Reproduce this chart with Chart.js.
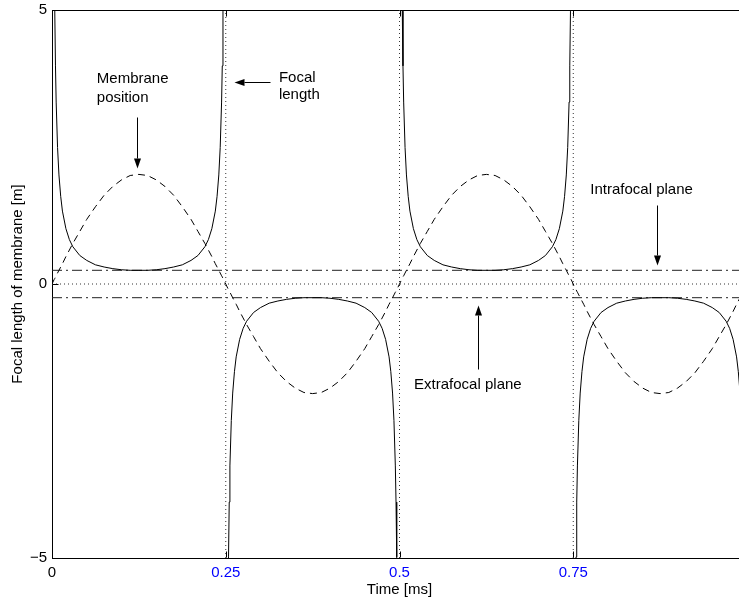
<!DOCTYPE html>
<html>
<head>
<meta charset="utf-8">
<script src="https://cdn.jsdelivr.net/npm/chart.js@4.4.1/dist/chart.umd.min.js"></script>
<style>
  html, body { margin: 0; padding: 0; background: #fff; overflow: hidden; }
  #wrap { width: 739px; height: 600px; overflow: hidden; }
</style>
</head>
<body>
<div id="wrap"><canvas id="lensChart" width="760" height="600"></canvas></div>
<script>
// time axis [ms], denser near the asymptotes of the focal length curve
const timeMs = [
  0, 0.003, 0.004, 0.005, 0.006, 0.008, 0.01, 0.0125, 0.015, 0.02, 0.025, 0.03, 0.04, 0.05, 0.0625, 0.075, 0.0875, 0.1, 0.1125,
  0.125, 0.1375, 0.15, 0.1625, 0.175, 0.1875, 0.2, 0.21, 0.22, 0.225, 0.23, 0.235, 0.2375, 0.24, 0.242, 0.244, 0.245, 0.246, 0.247,
  0.25, 0.253, 0.254, 0.255, 0.256, 0.258, 0.26, 0.2625, 0.265, 0.27, 0.275, 0.28, 0.29, 0.3, 0.3125, 0.325, 0.3375, 0.35, 0.3625,
  0.375, 0.3875, 0.4, 0.4125, 0.425, 0.4375, 0.45, 0.46, 0.47, 0.475, 0.48, 0.485, 0.4875, 0.49, 0.492, 0.494, 0.495, 0.496, 0.497,
  0.5, 0.503, 0.504, 0.505, 0.506, 0.508, 0.51, 0.5125, 0.515, 0.52, 0.525, 0.53, 0.54, 0.55, 0.5625, 0.575, 0.5875, 0.6, 0.6125,
  0.625, 0.6375, 0.65, 0.6625, 0.675, 0.6875, 0.7, 0.71, 0.72, 0.725, 0.73, 0.735, 0.7375, 0.74, 0.742, 0.744, 0.745, 0.746, 0.747,
  0.75, 0.753, 0.754, 0.755, 0.756, 0.758, 0.76, 0.7625, 0.765, 0.77, 0.775, 0.78, 0.79, 0.8, 0.8125, 0.825, 0.8375, 0.85, 0.8625,
  0.875, 0.8875, 0.9, 0.9125, 0.925, 0.9375, 0.95, 0.96, 0.97, 0.975, 0.98, 0.985, 0.9875, 0.99, 0.992, 0.994, 0.995, 0.996, 0.997,
  1.0
];

// focal length of membrane [m] (solid)
const focalLength = [
  null, 6.63, 4.98, 3.98, 3.32, 2.49, 1.99, 1.60, 1.33, 1.01, 0.81, 0.68, 0.52, 0.43, 0.35, 0.31, 0.28, 0.26, 0.25,
  0.25, 0.25, 0.26, 0.28, 0.31, 0.35, 0.43, 0.52, 0.68, 0.81, 1.01, 1.33, 1.60, 1.99, 2.49, 3.32, 3.98, 4.98, 6.63,
  null, -6.63, -4.98, -3.98, -3.32, -2.49, -1.99, -1.60, -1.33, -1.01, -0.81, -0.68, -0.52, -0.43, -0.35, -0.31, -0.28, -0.26, -0.25,
  -0.25, -0.25, -0.26, -0.28, -0.31, -0.35, -0.43, -0.52, -0.68, -0.81, -1.01, -1.33, -1.60, -1.99, -2.49, -3.32, -3.98, -4.98, -6.63,
  null, 6.63, 4.98, 3.98, 3.32, 2.49, 1.99, 1.60, 1.33, 1.01, 0.81, 0.68, 0.52, 0.43, 0.35, 0.31, 0.28, 0.26, 0.25,
  0.25, 0.25, 0.26, 0.28, 0.31, 0.35, 0.43, 0.52, 0.68, 0.81, 1.01, 1.33, 1.60, 1.99, 2.49, 3.32, 3.98, 4.98, 6.63,
  null, -6.63, -4.98, -3.98, -3.32, -2.49, -1.99, -1.60, -1.33, -1.01, -0.81, -0.68, -0.52, -0.43, -0.35, -0.31, -0.28, -0.26, -0.25,
  -0.25, -0.25, -0.26, -0.28, -0.31, -0.35, -0.43, -0.52, -0.68, -0.81, -1.01, -1.33, -1.60, -1.99, -2.49, -3.32, -3.98, -4.98, -6.63,
  null
];

// membrane position (dashed)
const membranePos = [
  0, 0.08, 0.10, 0.13, 0.15, 0.20, 0.25, 0.31, 0.37, 0.50, 0.62, 0.74, 0.96, 1.18, 1.41, 1.62, 1.78, 1.90, 1.98,
  2.00, 1.98, 1.90, 1.78, 1.62, 1.41, 1.18, 0.96, 0.74, 0.62, 0.50, 0.37, 0.31, 0.25, 0.20, 0.15, 0.13, 0.10, 0.08,
  0, -0.08, -0.10, -0.13, -0.15, -0.20, -0.25, -0.31, -0.37, -0.50, -0.62, -0.74, -0.96, -1.18, -1.41, -1.62, -1.78, -1.90, -1.98,
  -2.00, -1.98, -1.90, -1.78, -1.62, -1.41, -1.18, -0.96, -0.74, -0.62, -0.50, -0.37, -0.31, -0.25, -0.20, -0.15, -0.13, -0.10, -0.08,
  0, 0.08, 0.10, 0.13, 0.15, 0.20, 0.25, 0.31, 0.37, 0.50, 0.62, 0.74, 0.96, 1.18, 1.41, 1.62, 1.78, 1.90, 1.98,
  2.00, 1.98, 1.90, 1.78, 1.62, 1.41, 1.18, 0.96, 0.74, 0.62, 0.50, 0.37, 0.31, 0.25, 0.20, 0.15, 0.13, 0.10, 0.08,
  0, -0.08, -0.10, -0.13, -0.15, -0.20, -0.25, -0.31, -0.37, -0.50, -0.62, -0.74, -0.96, -1.18, -1.41, -1.62, -1.78, -1.90, -1.98,
  -2.00, -1.98, -1.90, -1.78, -1.62, -1.41, -1.18, -0.96, -0.74, -0.62, -0.50, -0.37, -0.31, -0.25, -0.20, -0.15, -0.13, -0.10, -0.08,
  0
];

const focalMarks = [0.25, 0.5, 0.75];   // dotted vertical lines
const planeLevels = [0.25, -0.25];      // intra/extrafocal planes
const xTicks = [0, 0.25, 0.5, 0.75];
const yTicks = [-5, 0, 5];

// annotation text (left x, baseline y in data units) and arrows (tail -> tip)
const notes = [
  { lines: ["Membrane", "position"], x: 0.0645, y: [3.676, 3.329] },
  { lines: ["Focal", "length"], x: 0.3265, y: [3.694, 3.384] },
  { lines: ["Intrafocal plane"], x: 0.7745, y: [1.634] },
  { lines: ["Extrafocal plane"], x: 0.521, y: [-1.913] }
];
const arrows = [
  { x1: 0.1224, y1: 3.055, x2: 0.1224, y2: 2.123 },
  { x1: 0.3138, y1: 3.694, x2: 0.262, y2: 3.694 },
  { x1: 0.8709, y1: 1.447, x2: 0.8709, y2: 0.351 },
  { x1: 0.6133, y1: -1.548, x2: 0.6133, y2: -0.379 }
];

const FONT = '"Liberation Sans", Arial, Helvetica, sans-serif';

const lineSet = (data, dash, color) => ({
  data,
  borderColor: color || "#000",
  borderWidth: 1,
  borderDash: dash,
  pointRadius: 0,
  tension: 0,
  spanGaps: false,
  fill: false
});

const datasets = [
  lineSet(timeMs.map((t, i) => ({ x: t, y: focalLength[i] })), []),
  lineSet(timeMs.map((t, i) => ({ x: t, y: membranePos[i] })), [7, 5]),
  lineSet([{ x: 0, y: 0 }, { x: 1, y: 0 }], [1, 3], "#333")
];
planeLevels.forEach((v) => {
  datasets.push(lineSet([{ x: 0, y: v }, { x: 1, y: v }], [10, 4, 2, 4], "#222"));
});
focalMarks.forEach((v) => {
  datasets.push(lineSet([{ x: v, y: -5 }, { x: v, y: 5 }], [1, 3], "#333"));
});

// frame top, inside tick marks, arrows and labels
const overlay = {
  id: "overlay",
  afterDatasetsDraw(chart) {
    const { ctx, chartArea: a, scales: { x, y } } = chart;
    ctx.save();
    ctx.strokeStyle = "#000";
    ctx.fillStyle = "#000";
    ctx.lineWidth = 1;
    ctx.setLineDash([]);

    const top = Math.round(a.top) + 0.5;
    const bot = Math.round(a.bottom) - 0.5;
    const left = Math.round(a.left) + 0.5;
    ctx.beginPath();
    ctx.moveTo(a.left, top);
    ctx.lineTo(a.right, top);
    xTicks.forEach((v) => {
      if (v === 0) return;
      const px = Math.round(x.getPixelForValue(v)) + 0.5;
      ctx.moveTo(px, bot);
      ctx.lineTo(px, bot - 6);
      ctx.moveTo(px, top);
      ctx.lineTo(px, top + 6);
    });
    yTicks.forEach((v) => {
      const py = Math.round(y.getPixelForValue(v)) + 0.5;
      ctx.moveTo(left, py);
      ctx.lineTo(left + 6, py);
    });
    ctx.stroke();

    arrows.forEach((ar) => {
      const x1 = Math.round(x.getPixelForValue(ar.x1)) + 0.5;
      const y1 = Math.round(y.getPixelForValue(ar.y1)) + 0.5;
      const x2 = Math.round(x.getPixelForValue(ar.x2)) + 0.5;
      const y2 = Math.round(y.getPixelForValue(ar.y2)) + 0.5;
      const ang = Math.atan2(y2 - y1, x2 - x1);
      const len = 10, half = 3.5;
      const bx = x2 - len * Math.cos(ang), by = y2 - len * Math.sin(ang);
      ctx.beginPath();
      ctx.moveTo(x1, y1);
      ctx.lineTo(bx, by);
      ctx.stroke();
      ctx.beginPath();
      ctx.moveTo(x2, y2);
      ctx.lineTo(bx + half * Math.sin(ang), by - half * Math.cos(ang));
      ctx.lineTo(bx - half * Math.sin(ang), by + half * Math.cos(ang));
      ctx.closePath();
      ctx.fill();
    });

    ctx.font = "15px " + FONT;
    ctx.textAlign = "left";
    ctx.textBaseline = "alphabetic";
    notes.forEach((n) => {
      n.lines.forEach((txt, i) => {
        ctx.fillText(txt, x.getPixelForValue(n.x), y.getPixelForValue(n.y[i]));
      });
    });
    ctx.restore();
  }
};

new Chart(document.getElementById("lensChart"), {
  type: "line",
  data: { datasets },
  options: {
    responsive: false,
    animation: false,
    events: [],
    layout: { padding: { top: 10, right: 13, bottom: 0, left: 0 } },
    plugins: { legend: { display: false }, tooltip: { enabled: false } },
    scales: {
      x: {
        type: "linear",
        min: 0,
        max: 1,
        afterFit: (s) => { s.height = 42; s.paddingLeft = 0; s.paddingRight = 0; },
        afterBuildTicks: (s) => { s.ticks = xTicks.map((v) => ({ value: v })); },
        grid: { drawOnChartArea: false, drawTicks: false },
        border: { display: true, color: "#000", width: 1 },
        ticks: {
          padding: 6,
          autoSkip: false,
          maxRotation: 0,
          font: { family: FONT, size: 15 },
          color: (c) => (c.tick && c.tick.value === 0 ? "#000" : "#0000ff"),
          callback: (v) => String(v)
        },
        title: {
          display: true,
          text: "Time [ms]",
          color: "#000",
          font: { family: FONT, size: 15 },
          padding: { top: 0, bottom: 1 }
        }
      },
      y: {
        min: -5,
        max: 5,
        afterFit: (s) => { s.width = 52; s.paddingTop = 0; s.paddingBottom = 0; },
        afterBuildTicks: (s) => { s.ticks = yTicks.map((v) => ({ value: v })); },
        grid: { drawOnChartArea: false, drawTicks: false },
        border: { display: true, color: "#000", width: 1 },
        ticks: {
          padding: 5,
          font: { family: FONT, size: 15 },
          color: "#000",
          callback: (v) => (v < 0 ? "\u2212" + Math.abs(v) : String(v))
        },
        title: {
          display: true,
          text: "Focal length of membrane [m]",
          color: "#000",
          font: { family: FONT, size: 15 },
          padding: { top: 9, bottom: 0 }
        }
      }
    }
  },
  plugins: [overlay]
});
</script>
</body>
</html>
